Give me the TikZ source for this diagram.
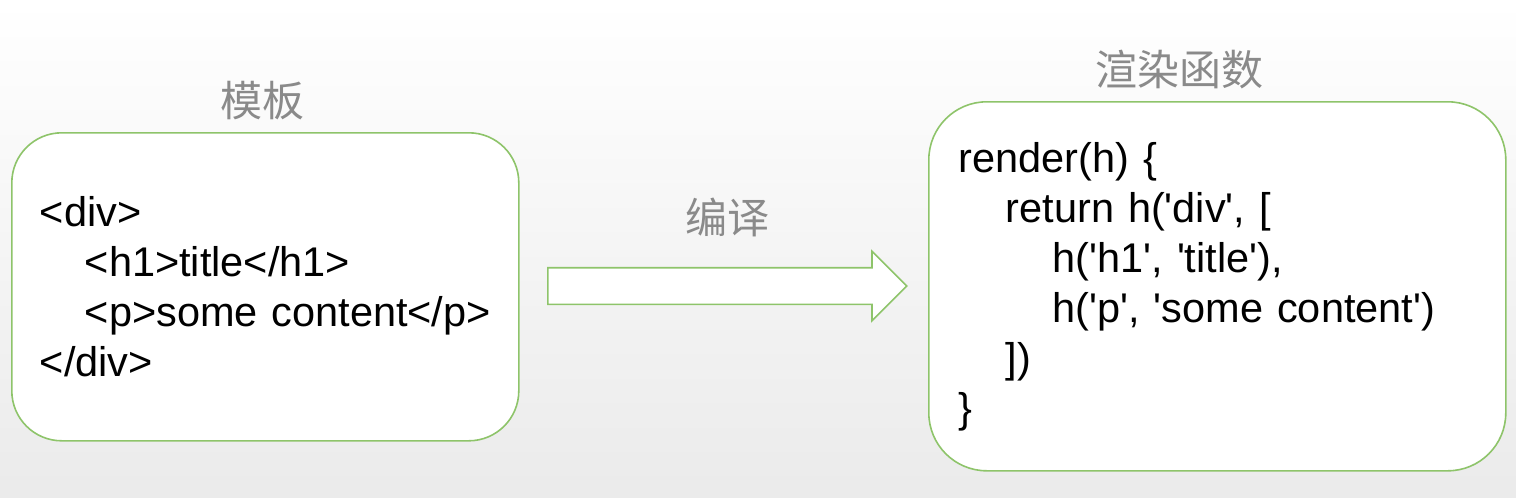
\documentclass[tikz,border=0pt]{standalone}
\usepackage{fontspec}
\setmainfont{Liberation Sans}[Ligatures=TeXOff]
\newfontfamily\cjk{Noto Sans CJK SC}
\usepackage{tikz}
\usetikzlibrary{positioning, shapes.arrows}

\definecolor{boxgreen}{RGB}{142,196,106}
\definecolor{labelgray}{RGB}{138,138,138}

\begin{document}
\begin{tikzpicture}[x=1pt, y=1pt,
  codebox/.style={draw=boxgreen, line width=1.6pt, fill=white, align=left, anchor=north west,
    font=\fontsize{41.5}{50}\selectfont, inner xsep=0pt,
    execute at begin node={\hyphenpenalty=10000\hbadness=10000\hfuzz=100pt\relax}},
  caption/.style={text=labelgray, font=\cjk\fontsize{42}{48}\selectfont, inner sep=0pt},
  blockarrow/.style={single arrow, draw=boxgreen, line width=1.6pt, fill=white,
    minimum height=359pt, minimum width=68pt, inner ysep=17.5pt, inner xsep=0pt,
    single arrow head extend=16.5pt, single arrow tip angle=90}]
\shade[top color=white, bottom color=black!8] (0,0) rectangle (1516,-498);
\useasboundingbox (0,0) rectangle (1516,-498);
% boxes
\node[codebox, rounded corners=50pt, minimum width=507pt, minimum height=308pt,
  text width=451pt, inner xsep=28pt] (tpl) at (11,-132) {%
<div>\\
\hspace*{45pt}<h1>title</h1>\\
\hspace*{45pt}<p>some~content</p>\\
</div>};
\node[codebox, rounded corners=58pt, minimum width=577pt, minimum height=369pt,
  text width=517pt, inner xsep=30pt] (fn) at (928,-101) {%
render(h) \{\\
\hspace*{47pt}return h('div', [\\
\hspace*{94pt}h('h1', 'title'),\\
\hspace*{94pt}h('p', 'some content')\\
\hspace*{47pt}])\\
\}};
\node[blockarrow, anchor=tail] (compile) at (547,-286) {};
% labels
\node[caption, above=12pt of tpl, xshift=-3pt] (tplname) {模板};
\node[caption, above=12pt of fn, xshift=-38pt] (fnname) {渲染函数};
\node[caption, above=30pt of compile, xshift=9pt] (compilename) {编译};
\end{tikzpicture}
\end{document}
